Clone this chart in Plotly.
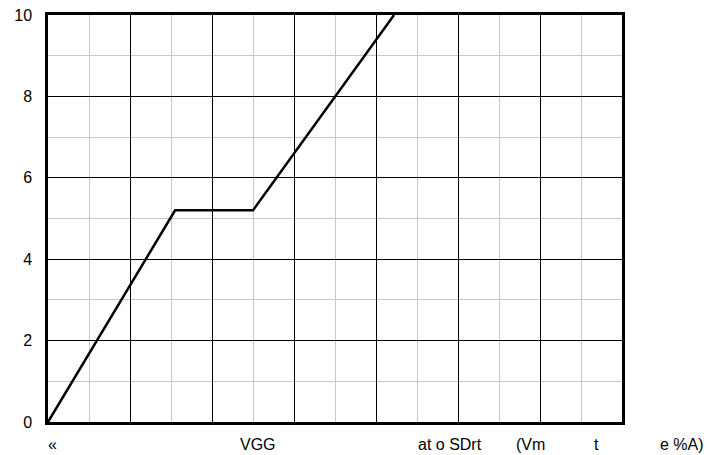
import plotly.graph_objects as go

# Data
x_vals = [0, 3.1, 5.0, 8.44]
y_vals = [0, 5.2, 5.2, 10]

y_ticks = [0, 2, 4, 6, 8, 10]
x_max = 14

x_label_texts = ["«", "VGG", "at o SDrt", "(Vm", "t", "e %A)"]
# horizontal centres of the x-axis texts, as fractions of the plot width
x_label_frac = [0.007, 0.366, 0.700, 0.840, 0.955, 1.105]

FONT = "Liberation Sans, Arial, sans-serif"

fig = go.Figure()
fig.add_trace(go.Scatter(x=x_vals, y=y_vals, mode="lines",
                         line=dict(color="black", width=2.5),
                         showlegend=False, cliponaxis=True))

for t, p in zip(x_label_texts, x_label_frac):
    fig.add_annotation(x=p, y=0, xref="paper", yref="paper", text=t,
                       showarrow=False, yshift=-22, yanchor="middle",
                       xanchor="center",
                       font=dict(family=FONT, size=16, color="black"))

fig.update_xaxes(range=[0, x_max], dtick=2, tick0=0, automargin=False,
                 showgrid=True, gridcolor="black", gridwidth=1.3,
                 minor=dict(dtick=1, showgrid=True, gridcolor="#c8c8c8", gridwidth=1.3),
                 showticklabels=False, ticks="",
                 showline=True, linecolor="black", linewidth=2.5, mirror=True,
                 zeroline=False)
fig.update_yaxes(range=[0, 10], tickvals=y_ticks, automargin=False,
                 ticklabeloverflow="allow",
                 showgrid=True, gridcolor="black", gridwidth=1.3,
                 minor=dict(dtick=1, showgrid=True, gridcolor="#c8c8c8", gridwidth=1.3),
                 ticks="", ticklabelstandoff=10,
                 tickfont=dict(family=FONT, size=16, color="black"),
                 showline=True, linecolor="black", linewidth=2.5, mirror=True,
                 zeroline=False)

fig.update_layout(width=708, height=447,
                  margin=dict(l=40, r=94, t=7, b=33),
                  paper_bgcolor="white", plot_bgcolor="white",
                  font=dict(family=FONT, size=16, color="black"))

fig.write_html("out.html")
